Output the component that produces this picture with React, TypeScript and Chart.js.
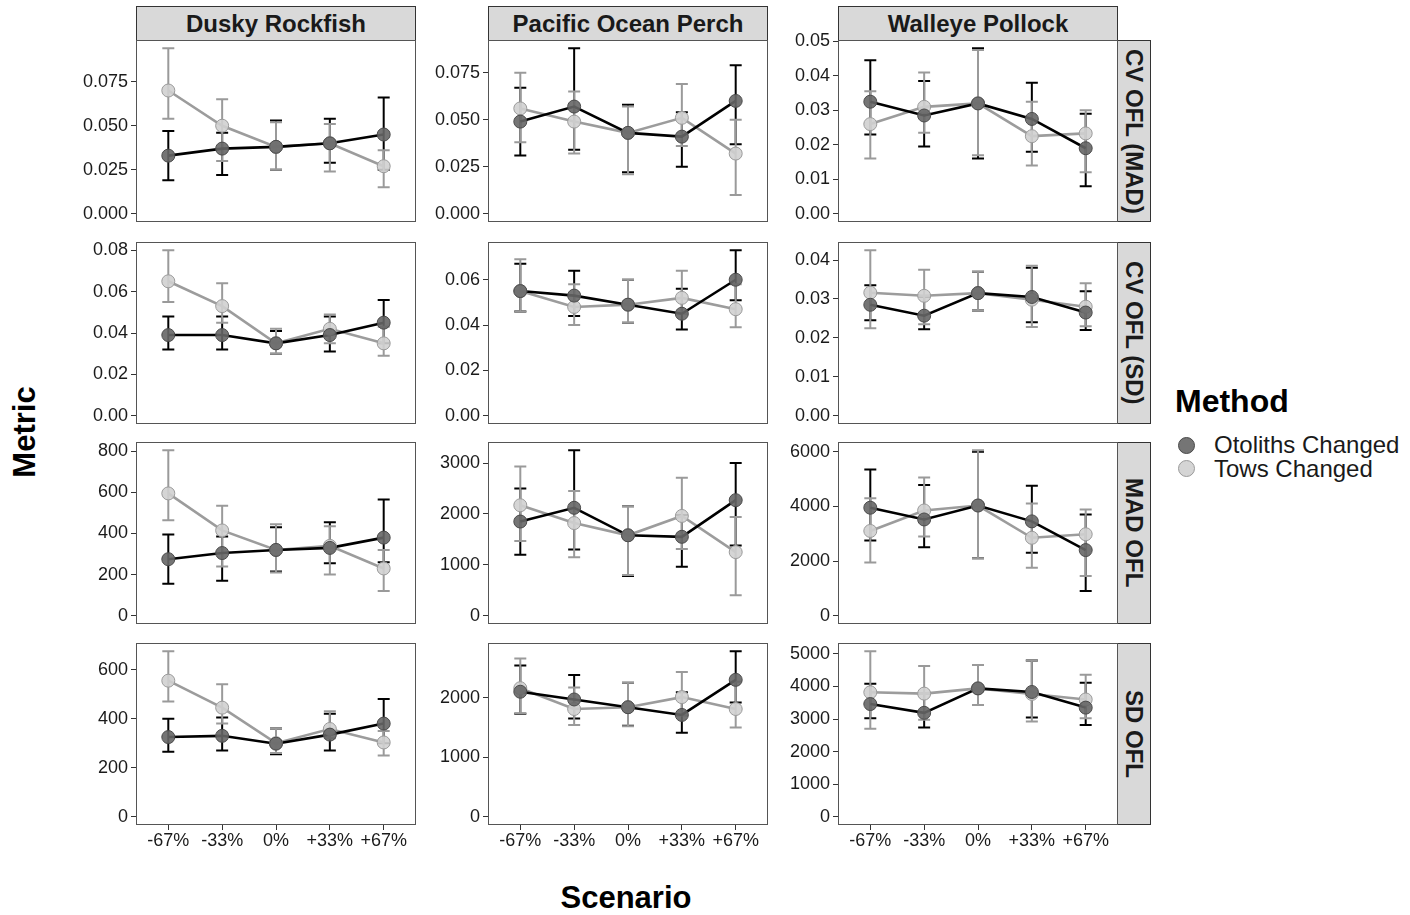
import React, { useEffect, useRef } from "react";
import { Chart, registerables } from "chart.js";
Chart.register(...registerables);

const FONT = '"Liberation Sans", Arial, sans-serif';
Chart.defaults.font.family = FONT;

const scenarios = ["-67%", "-33%", "0%", "+33%", "+67%"];
const species = ["Dusky Rockfish", "Pacific Ocean Perch", "Walleye Pollock"];
const metrics = ["CV OFL (MAD)", "CV OFL (SD)", "MAD OFL", "SD OFL"];
const methods = ["Otoliths Changed", "Tows Changed"];

// each point: [lower, mean, upper]
// Row 1: CV OFL (MAD)
const duskyCvMadOto = [[0.019, 0.033, 0.047], [0.022, 0.037, 0.046], [0.025, 0.038, 0.053], [0.029, 0.040, 0.054], [0.025, 0.045, 0.066]];
const duskyCvMadTows = [[0.054, 0.070, 0.094], [0.030, 0.050, 0.065], [0.025, 0.038, 0.052], [0.024, 0.040, 0.051], [0.015, 0.027, 0.036]];
const popCvMadOto = [[0.031, 0.049, 0.067], [0.034, 0.057, 0.088], [0.022, 0.043, 0.058], [0.025, 0.041, 0.054], [0.037, 0.060, 0.079]];
const popCvMadTows = [[0.038, 0.056, 0.075], [0.032, 0.049, 0.065], [0.021, 0.043, 0.057], [0.036, 0.051, 0.069], [0.010, 0.032, 0.050]];
const walleyeCvMadOto = [[0.023, 0.0325, 0.0445], [0.0195, 0.0285, 0.0385], [0.016, 0.032, 0.048], [0.018, 0.0275, 0.038], [0.008, 0.019, 0.029]];
const walleyeCvMadTows = [[0.016, 0.026, 0.0355], [0.0235, 0.031, 0.041], [0.017, 0.032, 0.0475], [0.014, 0.0225, 0.0325], [0.012, 0.0233, 0.030]];
// Row 2: CV OFL (SD)
const duskyCvSdOto = [[0.032, 0.039, 0.048], [0.032, 0.039, 0.048], [0.030, 0.035, 0.041], [0.031, 0.039, 0.048], [0.035, 0.045, 0.056]];
const duskyCvSdTows = [[0.055, 0.065, 0.080], [0.045, 0.053, 0.064], [0.030, 0.035, 0.042], [0.035, 0.042, 0.049], [0.029, 0.035, 0.043]];
const popCvSdOto = [[0.046, 0.055, 0.067], [0.044, 0.053, 0.064], [0.041, 0.049, 0.060], [0.038, 0.045, 0.056], [0.051, 0.060, 0.073]];
const popCvSdTows = [[0.046, 0.055, 0.069], [0.040, 0.048, 0.058], [0.041, 0.049, 0.060], [0.045, 0.052, 0.064], [0.039, 0.047, 0.058]];
const walleyeCvSdOto = [[0.0245, 0.0285, 0.0335], [0.0222, 0.0257, 0.0305], [0.027, 0.0315, 0.037], [0.024, 0.0305, 0.038], [0.022, 0.0265, 0.032]];
const walleyeCvSdTows = [[0.0225, 0.0316, 0.0425], [0.0235, 0.0308, 0.0375], [0.027, 0.0315, 0.037], [0.0228, 0.0298, 0.0385], [0.023, 0.028, 0.034]];
// Row 3: MAD OFL
const duskyMadOto = [[155, 275, 395], [170, 305, 385], [215, 320, 430], [255, 330, 455], [260, 380, 565]];
const duskyMadTows = [[465, 595, 805], [240, 415, 535], [210, 320, 445], [200, 340, 435], [120, 230, 320]];
const popMadOto = [[1200, 1850, 2500], [1300, 2120, 3250], [780, 1580, 2150], [960, 1550, 1980], [1380, 2270, 3000]];
const popMadTows = [[1470, 2170, 2930], [1150, 1820, 2450], [800, 1580, 2150], [1310, 1960, 2710], [400, 1250, 1940]];
const walleyeMadOto = [[2750, 3950, 5350], [2500, 3520, 4780], [2100, 4030, 6000], [2300, 3450, 4750], [900, 2400, 3700]];
const walleyeMadTows = [[1950, 3100, 4300], [2900, 3850, 5050], [2100, 4030, 6050], [1750, 2850, 4100], [1450, 2980, 3880]];
// Row 4: SD OFL
const duskySdOto = [[265, 325, 400], [270, 330, 405], [255, 298, 360], [270, 335, 420], [300, 380, 480]];
const duskySdTows = [[470, 555, 675], [380, 445, 540], [260, 300, 360], [320, 358, 430], [250, 303, 350]];
const popSdOto = [[1730, 2100, 2540], [1650, 1970, 2380], [1530, 1840, 2250], [1410, 1710, 2090], [1920, 2300, 2780]];
const popSdTows = [[1740, 2160, 2660], [1540, 1810, 2170], [1520, 1840, 2250], [1700, 2010, 2430], [1500, 1810, 2270]];
const walleyeSdOto = [[3020, 3460, 4080], [2740, 3190, 3780], [3430, 3940, 4660], [3050, 3830, 4800], [2820, 3350, 4110]];
const walleyeSdTows = [[2700, 3820, 5080], [2980, 3780, 4630], [3430, 3940, 4660], [2920, 3770, 4800], [3020, 3600, 4360]];

// y tick labels per panel
const ticksCvMadDusky = [0, 0.025, 0.05, 0.075];
const ticksCvMadPop = [0, 0.025, 0.05, 0.075];
const ticksCvMadWalleye = [0, 0.01, 0.02, 0.03, 0.04, 0.05];
const ticksCvSdDusky = [0, 0.02, 0.04, 0.06, 0.08];
const ticksCvSdPop = [0, 0.02, 0.04, 0.06];
const ticksCvSdWalleye = [0, 0.01, 0.02, 0.03, 0.04];
const ticksMadDusky = [0, 200, 400, 600, 800];
const ticksMadPop = [0, 1000, 2000, 3000];
const ticksMadWalleye = [0, 2000, 4000, 6000];
const ticksSdDusky = [0, 200, 400, 600];
const ticksSdPop = [0, 1000, 2000];
const ticksSdWalleye = [0, 1000, 2000, 3000, 4000, 5000];

const grid = [
  [[duskyCvMadOto, duskyCvMadTows, ticksCvMadDusky], [popCvMadOto, popCvMadTows, ticksCvMadPop], [walleyeCvMadOto, walleyeCvMadTows, ticksCvMadWalleye]],
  [[duskyCvSdOto, duskyCvSdTows, ticksCvSdDusky], [popCvSdOto, popCvSdTows, ticksCvSdPop], [walleyeCvSdOto, walleyeCvSdTows, ticksCvSdWalleye]],
  [[duskyMadOto, duskyMadTows, ticksMadDusky], [popMadOto, popMadTows, ticksMadPop], [walleyeMadOto, walleyeMadTows, ticksMadWalleye]],
  [[duskySdOto, duskySdTows, ticksSdDusky], [popSdOto, popSdTows, ticksSdPop], [walleyeSdOto, walleyeSdTows, ticksSdWalleye]],
];

// layout
const COL_X = [136, 488, 838];
const ROW_Y = [40, 242, 442, 643];
const PW = 280;
const PH = 182;
const AXW = 90;
const XAXH = 38;
const PADT = 12;

const OTO_LINE = "#000000";
const TOWS_LINE = "#9c9c9c";
const OTO_FILL = "rgba(102,102,102,0.9)";
const OTO_EDGE = "#4a4a4a";
const TOWS_FILL = "rgba(208,208,208,0.9)";
const TOWS_EDGE = "#9a9a9a";

const errorBarPlugin = {
  id: "errbars",
  beforeDatasetsDraw(chart: any) {
    const { ctx } = chart;
    const xs = chart.scales.x;
    const ys = chart.scales.y;
    chart.data.datasets.forEach((ds: any) => {
      if (!ds.errors) return;
      ctx.save();
      ctx.strokeStyle = ds.errColor;
      ctx.lineWidth = 2;
      ds.errors.forEach((d: number[], i: number) => {
        const x = xs.getPixelForValue(i);
        const y0 = ys.getPixelForValue(d[0]);
        const y1 = ys.getPixelForValue(d[2]);
        ctx.beginPath();
        ctx.moveTo(x, y0);
        ctx.lineTo(x, y1);
        ctx.moveTo(x - 6, y0);
        ctx.lineTo(x + 6, y0);
        ctx.moveTo(x - 6, y1);
        ctx.lineTo(x + 6, y1);
        ctx.stroke();
      });
      ctx.restore();
    });
  },
};

const borderPlugin = {
  id: "panelborder",
  afterDraw(chart: any) {
    const { ctx, chartArea: a } = chart;
    ctx.save();
    ctx.strokeStyle = "#555555";
    ctx.lineWidth = 1;
    ctx.strokeRect(a.left + 0.5, a.top + 0.5, a.right - a.left - 1, a.bottom - a.top - 1);
    ctx.restore();
  },
};

function decimalsOf(v: number) {
  const s = String(v);
  const i = s.indexOf(".");
  return i < 0 ? 0 : s.length - i - 1;
}

function Panel({ row, col }: { row: number; col: number }) {
  const ref = useRef<HTMLCanvasElement>(null);
  const [oto, tows, ticks] = grid[row][col] as [number[][], number[][], number[]];
  const bottom = row === ROW_Y.length - 1;
  const w = AXW + PW;
  const h = PADT + PH + (bottom ? XAXH : 0);
  useEffect(() => {
    if (!ref.current) return;
    const hi = Math.max(...oto.map((d) => d[2]), ...tows.map((d) => d[2]));
    const lo = 0;
    const pad = (hi - lo) * 0.05;
    const dec = decimalsOf(ticks[1]);
    const pts = (arr: number[][]) => arr.map((d, i) => ({ x: i, y: d[1] }));
    const chart = new Chart(ref.current, {
      type: "line",
      data: {
        datasets: [
          { label: methods[0] + " line", data: pts(oto), borderColor: OTO_LINE, borderWidth: 2.6, pointRadius: 0, order: 3, errors: oto, errColor: "#000000" } as any,
          { label: methods[1] + " line", data: pts(tows), borderColor: TOWS_LINE, borderWidth: 2.6, pointRadius: 0, order: 4, errors: tows, errColor: "#9a9a9a" } as any,
          { label: methods[1], data: pts(tows), showLine: false, pointRadius: 6.5, pointBackgroundColor: TOWS_FILL, pointBorderColor: TOWS_EDGE, pointBorderWidth: 1, order: 2 } as any,
          { label: methods[0], data: pts(oto), showLine: false, pointRadius: 6.5, pointBackgroundColor: OTO_FILL, pointBorderColor: OTO_EDGE, pointBorderWidth: 1, order: 1 } as any,
        ],
      },
      options: {
        animation: false,
        responsive: false,
        maintainAspectRatio: false,
        events: [],
        layout: { padding: { top: PADT, left: 0, right: 0, bottom: 0 }, autoPadding: false },
        plugins: { legend: { display: false }, tooltip: { enabled: false } },
        scales: {
          x: {
            type: "linear",
            min: -0.6,
            max: scenarios.length - 1 + 0.6,
            display: bottom,
            afterBuildTicks: (s: any) => {
              s.ticks = scenarios.map((_, i) => ({ value: i }));
            },
            afterFit: (s: any) => {
              if (bottom) s.height = XAXH;
              s.paddingLeft = 0;
              s.paddingRight = 0;
            },
            ticks: {
              callback: (v: any) => scenarios[Math.round(Number(v))],
              font: { family: FONT, size: 18 },
              color: "#1a1a1a",
              padding: 0,
              autoSkip: false,
              maxRotation: 0,
            },
            grid: { drawOnChartArea: false, drawTicks: true, tickLength: 5, color: "#333333" },
            border: { display: false },
          },
          y: {
            type: "linear",
            min: lo - pad,
            max: hi + pad,
            afterBuildTicks: (s: any) => {
              s.ticks = ticks.map((v) => ({ value: v }));
            },
            afterFit: (s: any) => {
              s.width = AXW;
              s.paddingTop = 0;
              s.paddingBottom = 0;
            },
            ticks: {
              callback: (v: any) => Number(v).toFixed(dec),
              font: { family: FONT, size: 18 },
              color: "#1a1a1a",
              padding: 3,
              autoSkip: false,
            },
            grid: { drawOnChartArea: false, drawTicks: true, tickLength: 5, color: "#333333" },
            border: { display: false },
          },
        },
      } as any,
      plugins: [errorBarPlugin, borderPlugin],
    });
    return () => chart.destroy();
  }, []);
  return (
    <canvas
      ref={ref}
      width={w}
      height={h}
      style={{ position: "absolute", left: COL_X[col] - AXW, top: ROW_Y[row] - PADT, width: w, height: h }}
    />
  );
}

const stripStyle: React.CSSProperties = {
  position: "absolute",
  boxSizing: "border-box",
  background: "#d9d9d9",
  border: "1px solid #333333",
  display: "flex",
  alignItems: "center",
  justifyContent: "center",
  fontWeight: "bold",
  fontSize: 24,
  color: "#1a1a1a",
  whiteSpace: "nowrap",
};

export default function App() {
  return (
    <div style={{ position: "absolute", left: 0, top: 0, width: 1410, height: 915, background: "#ffffff", fontFamily: FONT, overflow: "hidden" }}>
      {species.map((s, c) => (
        <div key={s} style={{ ...stripStyle, left: COL_X[c], top: 6, width: PW, height: 35 }}>{s}</div>
      ))}
      {metrics.map((m, r) => (
        <div key={m} style={{ ...stripStyle, left: COL_X[2] + PW - 1, top: ROW_Y[r], width: 34, height: PH }}>
          <span style={{ writingMode: "vertical-rl" }}>{m}</span>
        </div>
      ))}
      {ROW_Y.map((_, r) => COL_X.map((__, c) => <Panel key={r + "-" + c} row={r} col={c} />))}
      <div style={{ position: "absolute", left: 25, top: 432, transform: "translate(-50%,-50%) rotate(-90deg)", fontWeight: "bold", fontSize: 31, color: "#000", whiteSpace: "nowrap" }}>Metric</div>
      <div style={{ position: "absolute", left: 626, top: 898, transform: "translate(-50%,-50%)", fontWeight: "bold", fontSize: 31, color: "#000", whiteSpace: "nowrap" }}>Scenario</div>
      <div style={{ position: "absolute", left: 1175, top: 401, transform: "translateY(-50%)", fontWeight: "bold", fontSize: 32, color: "#000", whiteSpace: "nowrap" }}>Method</div>
      {methods.map((m, i) => (
        <React.Fragment key={m}>
          <div style={{ position: "absolute", left: 1178, top: 445 + i * 23.5 - 8.5, width: 17, height: 17, boxSizing: "border-box", borderRadius: "50%", background: i === 0 ? OTO_FILL : TOWS_FILL, border: "1px solid " + (i === 0 ? OTO_EDGE : TOWS_EDGE) }} />
          <div style={{ position: "absolute", left: 1214, top: 445 + i * 23.5, transform: "translateY(-50%)", fontSize: 24, color: "#1a1a1a", whiteSpace: "nowrap", lineHeight: "24px" }}>{m}</div>
        </React.Fragment>
      ))}
    </div>
  );
}
